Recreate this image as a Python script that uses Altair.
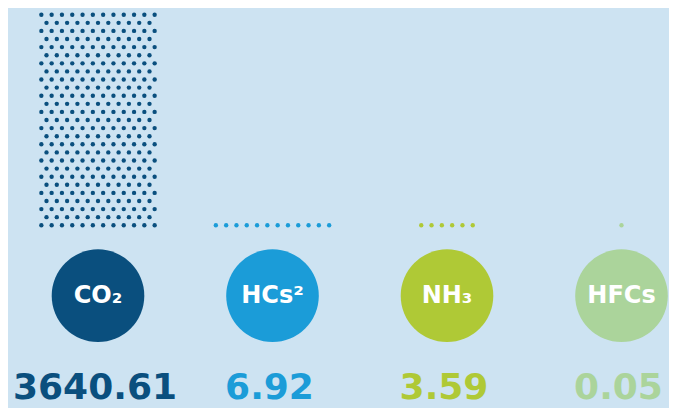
import altair as alt
import pandas as pd

# ---- data ----
gases = ["CO₂", "HCs²", "NH₃", "HFCs"]
value_labels = ["3640.61", "6.92", "3.59", "0.05"]
values = [3640.61, 6.92, 3.59, 0.05]
dot_rows = [27, 1, 1, 1]      # rows of dots above each badge
dot_cols = [12, 12, 6, 1]     # dots in the widest row
colors = ["#0a4f7e", "#1b9cd8", "#afc936", "#abd49b"]
bg = "#cde3f2"

# ---- layout constants (scale units) ----
COL_PX = 174.5
DOT_STEP = 10.3 / COL_PX      # horizontal dot spacing, in column units
CIRCLE_ROW = -8.69
VALUE_ROW = -21.44
X_DOMAIN = [-90 / COL_PX, (661 - 90) / COL_PX]
Y_DOMAIN = [-22.56, 26.83]

dots = []
for i, (g, nr, nc) in enumerate(zip(gases, dot_rows, dot_cols)):
    for r in range(nr):
        n = nc if r % 2 == 0 else nc - 1
        for k in range(n):
            dots.append({"gas": g, "x": i + (k - (n - 1) / 2) * DOT_STEP, "row": r})
dots_df = pd.DataFrame(dots)

badges_df = pd.DataFrame({
    "gas": gases,
    "x": list(range(len(gases))),
    "row": [CIRCLE_ROW] * len(gases),
    "value": values,
    "label": value_labels,
    "vrow": [VALUE_ROW] * len(gases),
})

xs = alt.Scale(domain=X_DOMAIN, nice=False, zero=False)
ys = alt.Scale(domain=Y_DOMAIN, nice=False, zero=False)
cs = alt.Scale(domain=gases, range=colors)

dot_layer = alt.Chart(dots_df).mark_circle(size=19, opacity=1).encode(
    x=alt.X("x:Q", scale=xs, axis=None),
    y=alt.Y("row:Q", scale=ys, axis=None),
    color=alt.Color("gas:N", scale=cs, legend=None),
)

circle_layer = alt.Chart(badges_df).mark_circle(size=8575, opacity=1).encode(
    x=alt.X("x:Q", scale=xs, axis=None),
    y=alt.Y("row:Q", scale=ys, axis=None),
    color=alt.Color("gas:N", scale=cs, legend=None),
)

name_layer = alt.Chart(badges_df).mark_text(
    font="DejaVu Sans", fontWeight="bold", fontSize=24, color="white",
    align="center", baseline="middle",
).encode(
    x=alt.X("x:Q", scale=xs, axis=None),
    y=alt.Y("row:Q", scale=ys, axis=None),
    text="gas:N",
)

value_layer = alt.Chart(badges_df).mark_text(
    font="DejaVu Sans", fontWeight="bold", fontSize=36,
    align="center", baseline="alphabetic", dx=-3,
).encode(
    x=alt.X("x:Q", scale=xs, axis=None),
    y=alt.Y("vrow:Q", scale=ys, axis=None),
    text="label:N",
    color=alt.Color("gas:N", scale=cs, legend=None),
)

chart = alt.layer(dot_layer, circle_layer, name_layer, value_layer).properties(
    width=661,
    height=400,
    autosize=alt.AutoSizeParams(type="none"),
    padding=0,
    background=bg,
).configure_view(stroke=None)

chart.save("out.html", embed_options={"renderer": "svg", "actions": False})
